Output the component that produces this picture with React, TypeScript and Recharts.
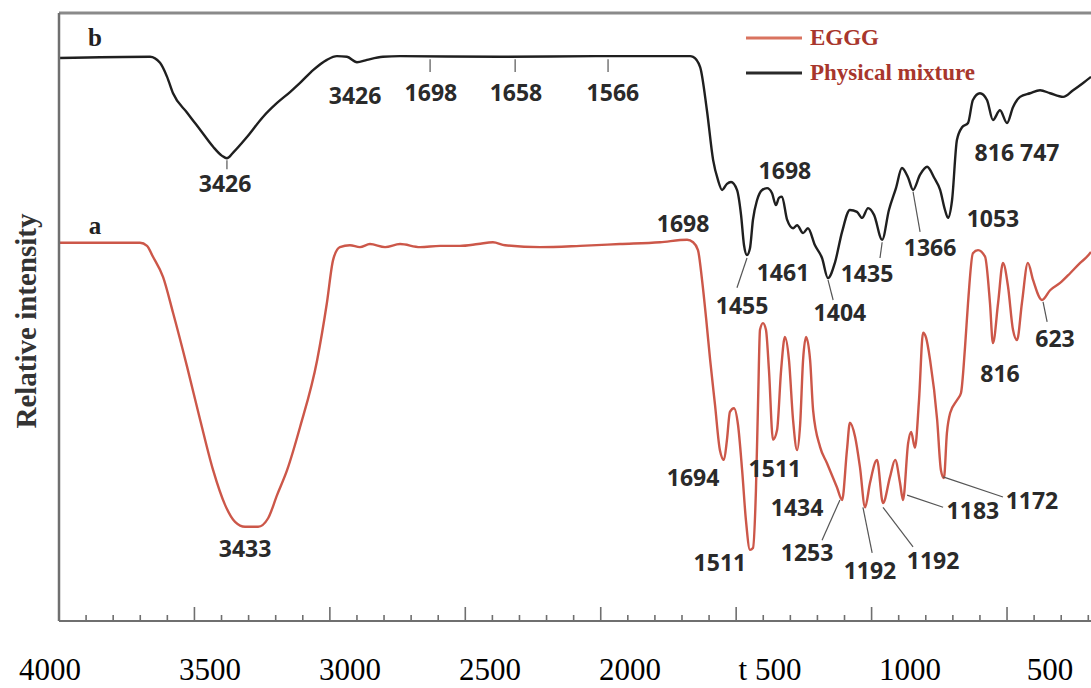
import React from 'react';
import { LineChart, Line, XAxis, YAxis, ReferenceDot, ReferenceLine, Legend, Label } from 'recharts';

// FTIR spectra: wavenumber (cm-1) against relative intensity (arbitrary units, 0-100)

// b: physical mixture
const physicalMixture: [number, number][] = [
  [4000, 92.6], [3664, 92.8], [3627, 91.8], [3601, 89.5], [3579, 86.8], [3527, 83.6], [3479, 80.8],
  [3431, 78.0], [3398, 76.5], [3380, 76.1], [3358, 77.0], [3306, 79.6], [3247, 82.9], [3195, 85.2],
  [3147, 87.0], [3110, 88.5], [3062, 90.6], [3011, 92.3], [2974, 92.9], [2937, 92.8], [2900, 91.9],
  [2863, 92.3], [2804, 92.8], [2741, 92.9], [2372, 92.8], [2003, 92.9], [1818, 92.9], [1670, 92.9],
  [1659, 92.8], [1633, 91.1], [1608, 84.0], [1585, 75.8], [1567, 72.5], [1552, 70.9], [1534, 71.9],
  [1519, 72.2], [1497, 70.9], [1482, 66.8], [1471, 61.8], [1460, 60.2], [1449, 61.3], [1438, 66.0],
  [1423, 69.2], [1404, 70.9], [1386, 71.2], [1368, 70.4], [1353, 68.4], [1342, 69.6], [1331, 69.8],
  [1312, 66.0], [1290, 64.6], [1275, 65.1], [1253, 63.8], [1235, 64.6], [1209, 61.8], [1183, 59.7],
  [1161, 56.4], [1135, 59.0], [1109, 64.0], [1080, 67.6], [1054, 67.3], [1035, 66.3], [1013, 67.9],
  [991, 66.8], [961, 62.7], [936, 67.6], [910, 71.2], [888, 74.5], [865, 72.9], [847, 70.9],
  [821, 73.4], [795, 74.7], [769, 72.9], [747, 70.9], [729, 67.6], [718, 66.3], [703, 69.2],
  [685, 79.1], [666, 81.2], [644, 81.9], [626, 85.7], [600, 86.8], [574, 85.7], [552, 82.4],
  [526, 84.0], [500, 81.9], [478, 84.5], [452, 86.2], [415, 86.8], [378, 87.3], [341, 86.8],
  [293, 86.2], [256, 87.3], [219, 88.5], [190, 89.5],
];

// a: EGGG
const eggg: [number, number][] = [
  [4000, 62.2], [3701, 62.2], [3675, 61.7], [3653, 59.9], [3616, 56.6], [3579, 50.7], [3527, 41.8],
  [3479, 33.1], [3431, 24.8], [3387, 19.1], [3350, 16.3], [3313, 15.5], [3265, 15.5], [3228, 16.9],
  [3195, 20.7], [3158, 24.8], [3110, 31.9], [3047, 42.9], [3011, 52.3], [2988, 59.4], [2963, 61.5],
  [2926, 61.8], [2889, 61.5], [2852, 62.0], [2796, 61.5], [2741, 62.0], [2667, 61.5], [2593, 61.7],
  [2520, 61.7], [2453, 62.0], [2398, 62.3], [2353, 61.8], [2224, 61.5], [2076, 61.7], [1929, 62.0],
  [1781, 62.3], [1681, 62.7], [1659, 62.3], [1641, 61.0], [1626, 56.1], [1611, 49.8], [1596, 42.9],
  [1578, 35.5], [1560, 28.1], [1545, 26.5], [1534, 29.8], [1523, 34.4], [1508, 35.0], [1493, 32.2],
  [1478, 24.8], [1464, 16.6], [1449, 11.7], [1438, 12.0], [1427, 21.5], [1419, 36.3], [1412, 47.9],
  [1401, 49.0], [1390, 47.9], [1379, 41.3], [1364, 29.8], [1349, 31.4], [1334, 41.3], [1320, 46.7],
  [1305, 42.9], [1290, 33.1], [1275, 28.1], [1264, 32.2], [1253, 42.9], [1242, 46.7], [1227, 42.9],
  [1216, 34.7], [1190, 28.6], [1165, 26.0], [1128, 22.0], [1109, 19.9], [1091, 28.1], [1080, 32.6],
  [1061, 30.3], [1043, 25.3], [1024, 18.7], [1006, 22.7], [980, 26.5], [958, 19.4], [932, 23.7],
  [913, 26.5], [895, 22.7], [884, 19.9], [865, 29.3], [854, 31.1], [840, 28.5], [825, 36.3],
  [810, 47.4], [799, 46.6], [784, 42.9], [758, 33.1], [744, 24.8], [733, 23.5], [722, 30.9],
  [710, 34.2], [685, 36.3], [670, 37.5], [655, 45.1], [644, 52.3], [626, 60.5], [607, 61.0],
  [581, 59.9], [563, 52.3], [552, 45.7], [533, 52.3], [515, 58.9], [496, 54.9], [478, 47.9],
  [463, 46.2], [445, 52.3], [423, 58.9], [404, 56.1], [371, 52.8], [341, 54.4], [304, 55.6],
  [267, 57.2], [230, 58.9], [205, 59.9], [190, 60.7],
];

// axis scale marks
const scaleTicks = [
  3900, 3800, 3700, 3600, 3500, 3400, 3300, 3200, 3100, 3000, 2900, 2800, 2700, 2600, 2500,
  2400, 2300, 2200, 2100, 2000, 1900, 1800, 1700, 1600, 1500, 1400, 1300, 1200, 1100, 1000,
  900, 800, 700, 600, 500, 400, 300, 200,
];
const scaleValues = [4000, 3500, 3000, 2500, 2000, 1500, 1000, 500];
const scaleLabels = ['4000', '3500', '3000', '2500', '2000', 't 500', '1000', '500'];

// peak annotations: anchor (wavenumber, intensity) and text
const mixturePeaks = [
  { x: 3387, y: 72.0, text: '3426' },
  { x: 2907, y: 86.5, text: '3426' },
  { x: 2627, y: 87.0, text: '1698' },
  { x: 2313, y: 87.0, text: '1658' },
  { x: 1955, y: 87.0, text: '1566' },
  { x: 1320, y: 74.2, text: '1698' },
  { x: 1478, y: 52.0, text: '1455' },
  { x: 1327, y: 57.4, text: '1461' },
  { x: 1117, y: 50.8, text: '1404' },
  { x: 1017, y: 57.2, text: '1435' },
  { x: 784, y: 61.5, text: '1366' },
  { x: 552, y: 66.3, text: '1053' },
  { x: 463, y: 77.1, text: '816 747' },
];
const egggPeaks = [
  { x: 3313, y: 12.0, text: '3433' },
  { x: 1696, y: 65.5, text: '1698' },
  { x: 1659, y: 23.7, text: '1694' },
  { x: 1357, y: 25.2, text: '1511' },
  { x: 1560, y: 9.7, text: '1511' },
  { x: 1275, y: 18.7, text: '1434' },
  { x: 1238, y: 11.3, text: '1253' },
  { x: 1006, y: 8.4, text: '1192' },
  { x: 773, y: 10.0, text: '1192' },
  { x: 626, y: 18.3, text: '1183' },
  { x: 408, y: 19.9, text: '1172' },
  { x: 526, y: 40.8, text: '816' },
  { x: 323, y: 46.5, text: '623' },
];
const curveTags = [
  { x: 3867, y: 95.9, text: 'b' },
  { x: 3867, y: 65.0, text: 'a' },
];

// leader lines: [x1, y1, x2, y2]
const mixtureLeaders: [number, number, number, number][] = [
  [3380, 75.8, 3380, 74.3],
  [2630, 92.4, 2630, 90.3],
  [2316, 92.4, 2316, 90.3],
  [1973, 92.4, 1973, 90.3],
  [1460, 59.7, 1497, 54.8],
  [1161, 56.1, 1142, 52.8],
  [961, 62.3, 969, 59.7],
  [847, 70.6, 821, 64.0],
];
const egggLeaders: [number, number, number, number][] = [
  [1117, 19.9, 1183, 13.3],
  [1032, 18.7, 998, 11.2],
  [958, 18.7, 847, 12.2],
  [869, 20.7, 736, 18.7],
  [736, 23.7, 515, 20.4],
  [367, 52.5, 352, 49.2],
];

const legendItems = [
  { name: 'EGGG', color: '#d9735f' },
  { name: 'Physical mixture', color: '#2a2a2a' },
];

const RED = '#cc5749';
const BLACK = '#1f1f1f';
const PEAK_FONT = '"Open Sans", "DejaVu Sans", sans-serif';
const SERIF = '"Liberation Serif", "Times New Roman", serif';

// short marks every 100 cm-1, long marks every 500 cm-1, pointing into the plot
const TickMark = (props: any) => {
  const { x, y, payload } = props;
  const base = y - 2;
  const major = payload.value % 500 === 0;
  return <line x1={x} x2={x} y1={base} y2={base - (major ? 14 : 6)} stroke="#6f6f6f" strokeWidth={1.6} />;
};

const ScaleLabel = (props: any) => {
  const { x, y, payload, index } = props;
  const shift = payload.value === 4000 ? -20 : 0;
  return (
    <text
      x={x + shift}
      y={y + 56}
      textAnchor="middle"
      style={{ fontFamily: SERIF, fontSize: 31, fill: '#000' }}
    >
      {scaleLabels[index]}
    </text>
  );
};

const YTitle = (props: any) => {
  const { viewBox } = props;
  const cx = viewBox.x + 26;
  const cy = viewBox.y + viewBox.height / 2 + 4;
  return (
    <text
      x={cx}
      y={cy}
      transform={`rotate(-90, ${cx}, ${cy})`}
      textAnchor="middle"
      dominantBaseline="central"
      style={{ fontFamily: SERIF, fontWeight: 'bold', fontSize: 29, fill: '#333' }}
    >
      Relative intensity
    </text>
  );
};

const peakText = (text: string, family: string, size: number, weight: string, fill: string) => (p: any) => (
  <text
    x={p.cx}
    y={p.cy}
    textAnchor="middle"
    dominantBaseline="central"
    style={{ fontFamily: family, fontSize: size, fontWeight: weight as any, fill }}
  >
    {text}
  </text>
);

const renderLegend = () => (
  <div style={{ fontFamily: SERIF, fontWeight: 'bold', fontSize: 23, color: '#a8362c' }}>
    {legendItems.map((item) => (
      <div key={item.name} style={{ display: 'flex', alignItems: 'center', height: 35, whiteSpace: 'nowrap' }}>
        <svg width={56} height={6} style={{ marginRight: 8 }}>
          <line x1={0} x2={56} y1={3} y2={3} stroke={item.color} strokeWidth={3} />
        </svg>
        <span>{item.name}</span>
      </div>
    ))}
  </div>
);

export default function App() {
  const mixtureData = physicalMixture.map(([x, y]) => ({ x, y }));
  const egggData = eggg.map(([x, y]) => ({ x, y }));

  return (
    <div style={{ position: 'absolute', left: 0, top: 0, width: 1091, height: 688, background: '#fff' }}>
      <LineChart width={1091} height={688} margin={{ top: 12, right: 0, bottom: 0, left: 0 }}>
        {/* printed scale labels, set below the tick-mark axis */}
        <XAxis
          xAxisId="axis1"
          type="number"
          dataKey="x"
          domain={[354, 4039]}
          reversed
          allowDataOverflow
          ticks={scaleValues}
          interval={0}
          height={66}
          tickSize={1}
          tickMargin={1}
          tickLine={false}
          axisLine={false}
          tick={ScaleLabel}
        />
        {/* wavenumber axis carrying the spectra and the tick marks */}
        <XAxis
          xAxisId="axis0"
          type="number"
          dataKey="x"
          domain={[190, 4000]}
          reversed
          allowDataOverflow
          ticks={scaleTicks}
          interval={0}
          height={1}
          tickSize={1}
          tickMargin={1}
          tickLine={false}
          tick={TickMark}
          axisLine={{ stroke: '#6f6f6f', strokeWidth: 2 }}
        />
        <XAxis
          xAxisId="top"
          orientation="top"
          type="number"
          domain={[190, 4000]}
          allowDataOverflow
          height={1}
          tick={false}
          tickLine={false}
          axisLine={{ stroke: '#8a8a8a', strokeWidth: 3 }}
        />
        <YAxis
          yAxisId="y"
          type="number"
          domain={[0, 100]}
          allowDataOverflow
          width={59}
          tick={false}
          tickLine={false}
          axisLine={{ stroke: '#6f6f6f', strokeWidth: 2.5 }}
        >
          <Label content={YTitle} />
        </YAxis>

        <Legend
          layout="vertical"
          align="center"
          verticalAlign="middle"
          content={renderLegend}
          wrapperStyle={{ left: 746, top: 20, width: 300 }}
        />

        <Line
          xAxisId="axis0"
          yAxisId="y"
          data={egggData}
          dataKey="y"
          name="EGGG"
          type="monotone"
          stroke={RED}
          strokeWidth={2.4}
          dot={false}
          activeDot={false}
          isAnimationActive={false}
        />
        <Line
          xAxisId="axis0"
          yAxisId="y"
          data={mixtureData}
          dataKey="y"
          name="Physical mixture"
          type="monotone"
          stroke={BLACK}
          strokeWidth={2.4}
          dot={false}
          activeDot={false}
          isAnimationActive={false}
        />

        {mixtureLeaders.map(([x1, y1, x2, y2], i) => (
          <ReferenceLine
            key={`ml${i}`}
            xAxisId="axis0"
            yAxisId="y"
            segment={[{ x: x1, y: y1 }, { x: x2, y: y2 }]}
            stroke="#555"
            strokeWidth={1.2}
            ifOverflow="visible"
          />
        ))}
        {egggLeaders.map(([x1, y1, x2, y2], i) => (
          <ReferenceLine
            key={`el${i}`}
            xAxisId="axis0"
            yAxisId="y"
            segment={[{ x: x1, y: y1 }, { x: x2, y: y2 }]}
            stroke="#555"
            strokeWidth={1.2}
            ifOverflow="visible"
          />
        ))}
        {[...mixturePeaks, ...egggPeaks].map((p, i) => (
          <ReferenceDot
            key={`p${i}`}
            xAxisId="axis0"
            yAxisId="y"
            x={p.x}
            y={p.y}
            r={0}
            ifOverflow="visible"
            shape={peakText(p.text, PEAK_FONT, 23, 'bold', '#2a2a2a')}
          />
        ))}
        {curveTags.map((p, i) => (
          <ReferenceDot
            key={`t${i}`}
            xAxisId="axis0"
            yAxisId="y"
            x={p.x}
            y={p.y}
            r={0}
            ifOverflow="visible"
            shape={peakText(p.text, SERIF, 25, 'bold', '#222')}
          />
        ))}
      </LineChart>
    </div>
  );
}
